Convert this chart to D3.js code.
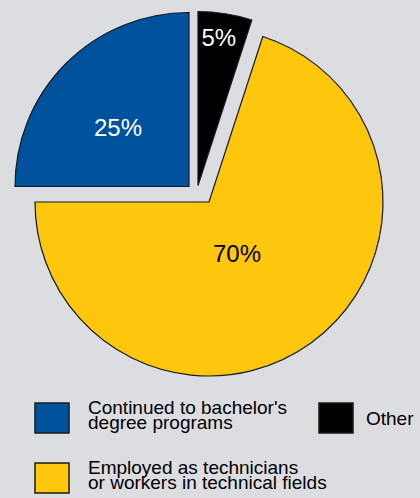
<!DOCTYPE html>
<html>
<head>
<meta charset="utf-8">
<script src="https://cdn.jsdelivr.net/npm/d3@7/dist/d3.min.js"></script>
<style>
  html, body { margin: 0; padding: 0; background: #dcdde0; }
  svg { display: block; font-family: "Liberation Sans", Arial, Helvetica, sans-serif; }
</style>
</head>
<body>
<svg id="chart" width="420" height="498"></svg>
<script>
// ---- data ----
const categories = ["Other", "Employed as technicians or workers in technical fields", "Continued to bachelor's degree programs"];
const values = [5, 70, 25];
const valueLabels = ["5%", "70%", "25%"];
const colors = ["#000000", "#fec60d", "#00529d"];
const labelColors = ["#ffffff", "#000000", "#ffffff"];

// legend entries (order as displayed)
const legendLines = [
  ["Continued to bachelor's", "degree programs"],
  ["Other"],
  ["Employed as technicians", "or workers in technical fields"]
];
const legendColors = ["#00529d", "#000000", "#fec60d"];

// ---- layout ----
const W = 420, H = 498;
const cx = 209, cy = 202, R = 174;
// explode translation per slice (layout)
const explode = [[-11, -16.5], [0, 0], [-20, -15.5]];
// label polar placement per slice (degrees clockwise from 12 o'clock, radius)
const labelPolar = [[8, 149], [151.5, 58.6], [309.5, 92]];

const svg = d3.select("#chart");
svg.append("rect").attr("width", W).attr("height", H).attr("fill", "#dcdde0");

const pie = d3.pie().sort(null).value(d => d)(values);
const arc = d3.arc().innerRadius(0).outerRadius(R);

const g = svg.append("g").attr("transform", `translate(${cx},${cy})`);
const slices = g.selectAll("g.slice").data(pie).join("g")
  .attr("class", "slice")
  .attr("transform", (d, i) => `translate(${explode[i][0]},${explode[i][1]})`);

slices.append("path")
  .attr("d", arc)
  .attr("fill", (d, i) => colors[i])
  .attr("stroke", "#14182a")
  .attr("stroke-width", 1.2)
  .attr("stroke-linejoin", "miter");

slices.append("text")
  .attr("x", (d, i) => labelPolar[i][1] * Math.sin(labelPolar[i][0] * Math.PI / 180))
  .attr("y", (d, i) => -labelPolar[i][1] * Math.cos(labelPolar[i][0] * Math.PI / 180))
  .attr("dy", "0.35em")
  .attr("text-anchor", "middle")
  .attr("font-size", 24)
  .attr("fill", (d, i) => labelColors[i])
  .text((d, i) => valueLabels[i]);

// ---- legend ----
const legendPos = [[35, 403], [319, 403], [35, 463]];
const boxW = 34, boxH = 30;
const lg = svg.append("g");
legendLines.forEach((lines, i) => {
  const [x, y] = legendPos[i];
  lg.append("rect")
    .attr("x", x).attr("y", y).attr("width", boxW).attr("height", boxH)
    .attr("fill", legendColors[i])
    .attr("stroke", "#1a1a1a").attr("stroke-width", 1.5);
  const t = lg.append("text")
    .attr("font-size", 19)
    .attr("fill", "#000");
  const midY = y + boxH / 2;
  const lineH = 15;
  const tx = lines.length > 1 ? x + boxW + 19 : x + boxW + 13;
  lines.forEach((s, j) => {
    const base = midY + 6.8 + (j - (lines.length - 1) / 2) * lineH - (lines.length > 1 ? 3 : 0);
    t.append("tspan").attr("x", tx).attr("y", base).text(s);
  });
});
</script>
</body>
</html>
